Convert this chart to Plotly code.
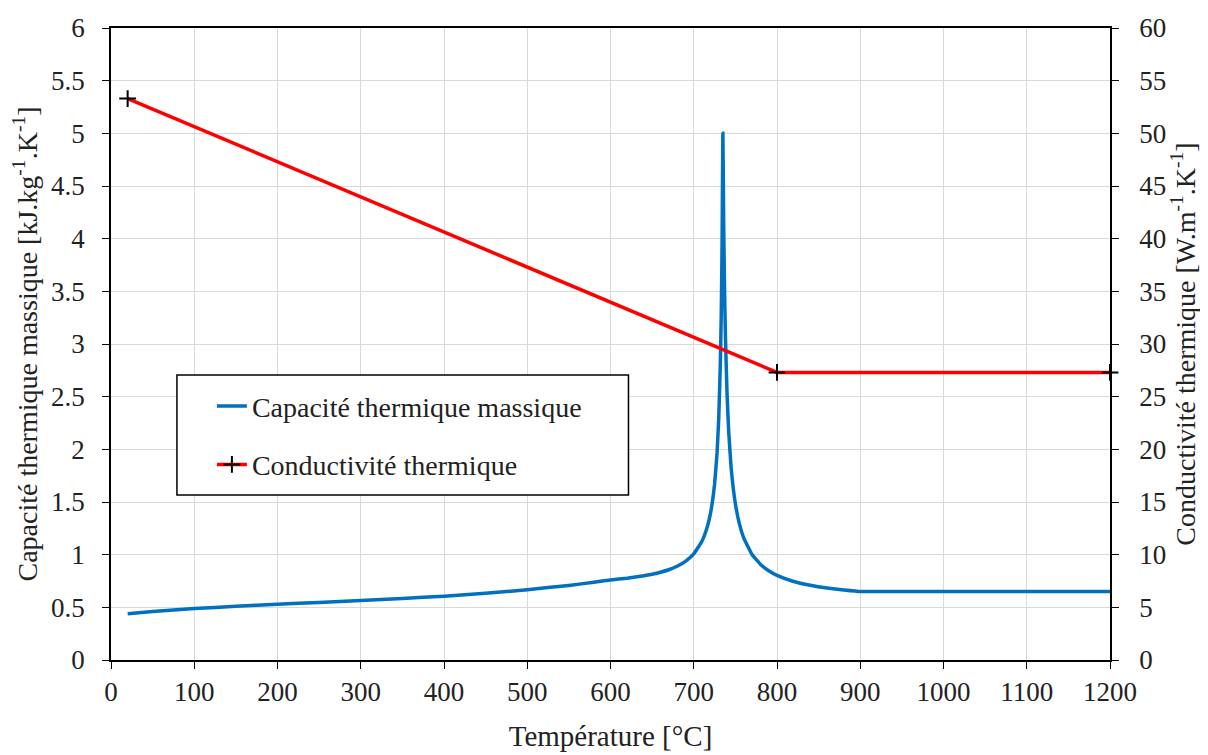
import plotly.graph_objects as go

# Specific heat capacity [kJ/kg/K]
temp_cp = [20, 50, 100, 150, 200, 250, 300, 350, 400, 450, 500, 550, 580, 600, 620, 640, 650,
           660, 670, 680, 690, 700, 710, 715, 720, 725, 728, 730, 732, 733, 734, 735, 736, 737,
           738, 740, 742, 745, 750, 755, 760, 770, 780, 790, 800, 820, 840, 860, 880, 900, 1200]
cp = [0.440, 0.460, 0.488, 0.510, 0.530, 0.547, 0.565, 0.584, 0.606, 0.633, 0.667, 0.708,
      0.738, 0.760, 0.776, 0.799, 0.814, 0.833, 0.857, 0.890, 0.937, 1.008, 1.130, 1.231,
      1.388, 1.666, 1.966, 2.291, 2.833, 3.266, 3.917, 5.000, 4.109, 3.515, 3.091, 2.525,
      2.165, 1.818, 1.483, 1.288, 1.160, 1.002, 0.909, 0.847, 0.803, 0.745, 0.709, 0.683,
      0.665, 0.650, 0.650]

# Thermal conductivity [W/m/K]
temp_k = [20, 800, 1200]
k = [53.3, 27.3, 27.3]

name_cp = "Capacité thermique massique"
name_k = "Conductivité thermique"

FONT = "Liberation Serif"
TXT = "#222222"

fig = go.Figure()
fig.add_trace(go.Scatter(x=temp_cp, y=cp, mode="lines", name=name_cp,
                         line=dict(color="#0070C0", width=3.5, shape="spline", smoothing=0.3),
                         legendgroup="a"))
fig.add_trace(go.Scatter(x=temp_k, y=k, mode="lines+markers", name=name_k, yaxis="y2",
                         line=dict(color="#FF0000", width=3.5), legendgroup="b",
                         cliponaxis=False,
                         marker=dict(symbol="cross-thin", size=12, color="black",
                                     line=dict(color="black", width=2))))

axis_common = dict(showline=True, linecolor="black", linewidth=1.5, ticks="outside",
                   ticklen=7, tickcolor="black", tickfont=dict(size=27, color=TXT),
                   zeroline=False, automargin=False)

fig.update_layout(
    width=1208, height=755,
    margin=dict(l=103, r=106, t=20, b=103),
    plot_bgcolor="white", paper_bgcolor="white",
    font=dict(family=FONT, size=27, color=TXT),
    xaxis=dict(range=[0, 1200], dtick=100, showgrid=True, gridcolor="#D9D9D9",
               mirror=True,
               title=dict(text="Température [°C]", font=dict(size=29), standoff=20),
               **axis_common),
    yaxis=dict(range=[0, 6], dtick=0.5, showgrid=True, gridcolor="#D9D9D9",
               ticklabelstandoff=12,
               title=dict(text="Capacité thermique massique [kJ.kg<sup>-1</sup>.K<sup>-1</sup>]",
                          font=dict(size=28), standoff=8),
               **axis_common),
    yaxis2=dict(range=[0, 60], dtick=5, overlaying="y", side="right", showgrid=False,
                ticklabelstandoff=15,
                title=dict(text="Conductivité thermique [W.m<sup>-1</sup>.K<sup>-1</sup>]",
                           font=dict(size=28), standoff=10),
                **axis_common),
    legend=dict(x=0.101, y=0.441, xanchor="left", yanchor="top",
                bgcolor="rgba(0,0,0,0)", borderwidth=0,
                traceorder="grouped", tracegroupgap=19,
                font=dict(size=28, color=TXT)),
    shapes=[dict(type="rect", xref="paper", yref="paper",
                 x0=0.066, x1=0.518, y0=0.261, y1=0.451,
                 line=dict(color="black", width=1.5), fillcolor="white", layer="above")],
)

fig.write_html("out.html")
